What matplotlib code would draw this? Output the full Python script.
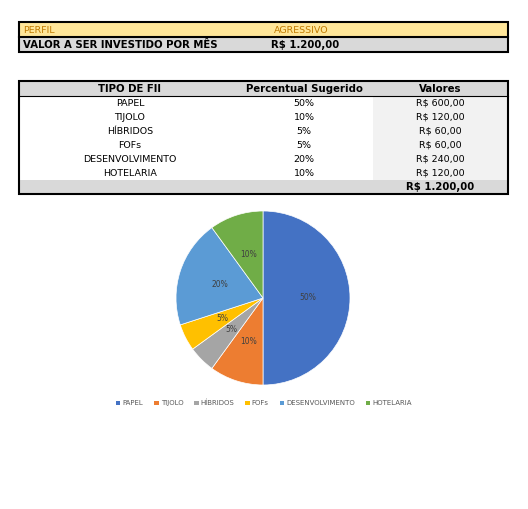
import matplotlib.pyplot as plt
from matplotlib.patches import Rectangle, Patch

# dados
perfil = "AGRESSIVO"
valor_mes = "R$ 1.200,00"
tipos = ["PAPEL", "TIJOLO", "HÍBRIDOS", "FOFs", "DESENVOLVIMENTO", "HOTELARIA"]
percentuais = [50, 10, 5, 5, 20, 10]
valores = ["R$ 600,00", "R$ 120,00", "R$ 60,00", "R$ 60,00", "R$ 240,00", "R$ 120,00"]
total = "R$ 1.200,00"
cores = ["#4472C4", "#ED7D31", "#A5A5A5", "#FFC000", "#5B9BD5", "#70AD47"]

W, H = 528, 509
fig = plt.figure(figsize=(W / 100, H / 100), dpi=100)
ax = fig.add_axes([0, 0, 1, 1])
ax.set_xlim(0, W)
ax.set_ylim(H, 0)
ax.axis("off")

fs = 6.8
fsb = 7.25
x0, x1 = 19, 508

# tabela do perfil
ax.add_patch(Rectangle((x0, 22), x1 - x0, 15, facecolor="#FFE699", edgecolor="none"))
ax.add_patch(Rectangle((x0, 37), x1 - x0, 15, facecolor="#D9D9D9", edgecolor="none"))
ax.add_patch(Rectangle((x0, 22), x1 - x0, 30, facecolor="none", edgecolor="black", lw=1.5))
ax.plot([x0, x1], [37, 37], color="black", lw=1.5)
ax.text(23, 30, "PERFIL", color="#C07A00", fontsize=fs, va="center")
ax.text(274, 30, perfil, color="#C07A00", fontsize=fs, va="center")
ax.text(23, 45, "VALOR A SER INVESTIDO POR MÊS", fontsize=fsb, fontweight="bold", va="center")
ax.text(271, 45, valor_mes, fontsize=fsb, fontweight="bold", va="center")

# tabela dos tipos
top, hdr, row_h = 81, 15, 14
n = len(tipos)
bot = top + hdr + row_h * n + 14
ax.add_patch(Rectangle((x0, top), x1 - x0, hdr, facecolor="#D9D9D9", edgecolor="none"))
ax.add_patch(Rectangle((373, top + hdr), x1 - 373, row_h * n, facecolor="#F2F2F2", edgecolor="none"))
ax.add_patch(Rectangle((x0, top + hdr + row_h * n), x1 - x0, 14, facecolor="#D9D9D9", edgecolor="none"))
ax.add_patch(Rectangle((x0, top), x1 - x0, bot - top, facecolor="none", edgecolor="black", lw=1.5))
ax.plot([x0, x1], [top + hdr, top + hdr], color="black", lw=0.8)

cx = [130, 304, 440]
for c, t in zip(cx, ["TIPO DE FII", "Percentual Sugerido", "Valores"]):
    ax.text(c, top + hdr / 2 + 0.5, t, fontsize=fsb, fontweight="bold", ha="center", va="center")
for i in range(n):
    y = top + hdr + row_h * i + row_h / 2
    ax.text(cx[0], y, tipos[i], fontsize=fs, ha="center", va="center")
    ax.text(cx[1], y, f"{percentuais[i]}%", fontsize=fs, ha="center", va="center")
    ax.text(cx[2], y, valores[i], fontsize=fs, ha="center", va="center")
ax.text(cx[2], bot - 7, total, fontsize=fsb, fontweight="bold", ha="center", va="center")

# pizza
pcx, pcy, r = 263, 298, 87
pax = fig.add_axes([(pcx - r) / W, 1 - (pcy + r) / H, 2 * r / W, 2 * r / H])
wedges, texts = pax.pie(percentuais, colors=cores, startangle=90, counterclock=False,
                        labels=[f"{p}%" for p in percentuais], labeldistance=0.52,
                        wedgeprops=dict(edgecolor="white", linewidth=0.5))
for t in texts:
    t.set_fontsize(5.5)
    t.set_color("#404040")
    t.set_ha("center")
    t.set_va("center")
pax.set_xlim(-1, 1)
pax.set_ylim(-1, 1)
pax.set_aspect("equal")

handles = [Patch(facecolor=c, edgecolor="none") for c in cores]
leg = ax.legend(handles, tipos, loc="center", bbox_to_anchor=(264 / W, 1 - 403 / H),
                bbox_transform=fig.transFigure, ncol=6, frameon=False, fontsize=5,
                handlelength=0.6, handleheight=0.6, handletextpad=0.3, columnspacing=1.6)
for t in leg.get_texts():
    t.set_color("#595959")

fig.savefig("out.png", dpi=100)
